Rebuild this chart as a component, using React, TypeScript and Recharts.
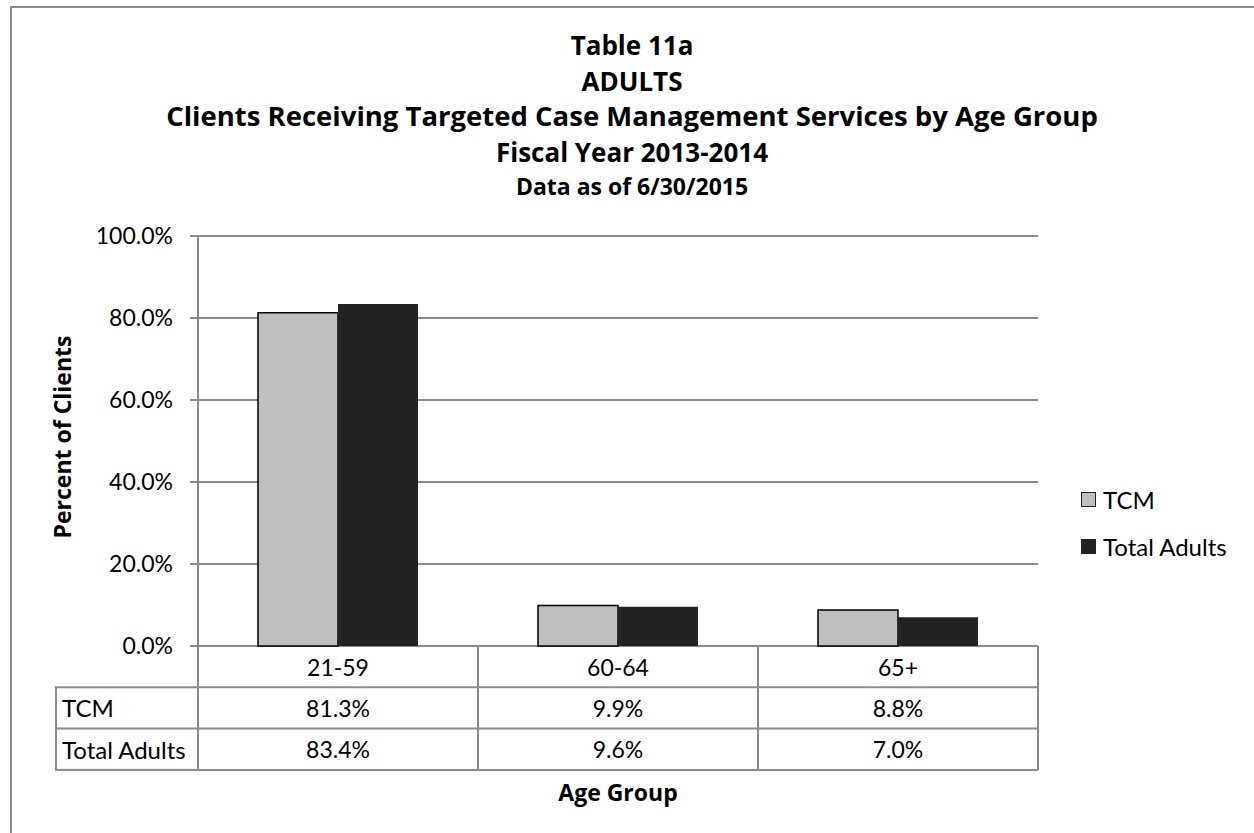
import React from "react";
import { BarChart, Bar, XAxis, YAxis, CartesianGrid } from "recharts";

const categories = ["21-59", "60-64", "65+"];
const tcmValues = [81.3, 9.9, 8.8];
const totalAdultValues = [83.4, 9.6, 7.0];
const seriesNames = ["TCM", "Total Adults"];
const yTicks = [0, 20, 40, 60, 80, 100];
const titleLines = [
  "Table 11a",
  "ADULTS",
  "Clients Receiving Targeted Case Management Services by Age Group",
  "Fiscal Year 2013-2014",
];
const subtitle = "Data as of 6/30/2015";

const W = 1254;
const H = 833;
const PLOT_LEFT = 198;
const PLOT_RIGHT = 1038;
const PLOT_TOP = 236;
const PLOT_BOTTOM = 646;
const Y_AXIS_W = 120;
const ROW_H = 41.3;
const LABEL_COL_LEFT = 56;
const GRID = "#8a8a8a";
const FONT = "Lato, 'DejaVu Sans', sans-serif";
const BOLD_FONT = "'Open Sans', 'DejaVu Sans', sans-serif";
const TCM_FILL = "#bfbfbf";
const TOTAL_FILL = "#222222";
const seriesFills = [TCM_FILL, TOTAL_FILL];

const data = categories.map((age, i) => ({
  age,
  tcm: tcmValues[i],
  total: totalAdultValues[i],
}));

const fmt = (v: number) => `${v.toFixed(1)}%`;

const half = (PLOT_RIGHT - PLOT_LEFT) / categories.length / 2;

// x-axis tick draws its column of the data table
const TableTick = (props: any) => {
  const { x, y, payload, index } = props;
  const top = y;
  const rows = [top + ROW_H, top + ROW_H * 2, top + ROW_H * 3];
  const l = x - half;
  const r = x + half;
  const i = index ?? categories.indexOf(payload.value);
  return (
    <g>
      <line x1={l} x2={l} y1={top} y2={rows[2]} stroke={GRID} strokeWidth={2} />
      <line x1={r} x2={r} y1={top} y2={rows[2]} stroke={GRID} strokeWidth={2} />
      {rows.map((ry) => (
        <line key={ry} x1={l} x2={r} y1={ry} y2={ry} stroke={GRID} strokeWidth={2} />
      ))}
      <text x={x} y={top + ROW_H / 2} textAnchor="middle" dominantBaseline="central" fontSize={23} fill="#000">
        {payload.value}
      </text>
      <text x={x} y={top + ROW_H * 1.5} textAnchor="middle" dominantBaseline="central" fontSize={23} fill="#000">
        {fmt(tcmValues[i])}
      </text>
      <text x={x} y={top + ROW_H * 2.5} textAnchor="middle" dominantBaseline="central" fontSize={23} fill="#000">
        {fmt(totalAdultValues[i])}
      </text>
      {i === 0 && (
        <g>
          <rect
            x={LABEL_COL_LEFT}
            y={rows[0]}
            width={l - LABEL_COL_LEFT}
            height={ROW_H * 2}
            fill="none"
            stroke={GRID}
            strokeWidth={2}
          />
          <line x1={LABEL_COL_LEFT} x2={l} y1={rows[1]} y2={rows[1]} stroke={GRID} strokeWidth={2} />
          {seriesNames.map((name, k) => (
            <text
              key={name}
              x={LABEL_COL_LEFT + 6}
              y={top + ROW_H * (1.5 + k)}
              dominantBaseline="central"
              fontSize={24}
              fill="#000"
            >
              {name}
            </text>
          ))}
        </g>
      )}
    </g>
  );
};

export default function App() {
  return (
    <div style={{ position: "absolute", left: 0, top: 0, width: W, height: H, fontFamily: FONT, background: "#fff" }}>
      <div
        style={{
          position: "absolute",
          left: 10,
          top: 6,
          width: W - 10,
          height: H - 6,
          boxSizing: "border-box",
          borderLeft: `2px solid ${GRID}`,
          borderTop: `2px solid ${GRID}`,
        }}
      />
      <BarChart
        width={W}
        height={H}
        data={data}
        margin={{ top: PLOT_TOP, right: W - PLOT_RIGHT, left: PLOT_LEFT - Y_AXIS_W, bottom: 0 }}
        barGap={0}
        barSize={80}
        style={{ position: "absolute", left: 0, top: 0 }}
      >
        <CartesianGrid vertical={false} stroke={GRID} strokeWidth={2} />
        <XAxis
          dataKey="age"
          height={H - PLOT_BOTTOM}
          axisLine={false}
          tickLine={false}
          tickSize={0}
          tickMargin={0}
          interval={0}
          tick={<TableTick />}
        />
        <YAxis
          width={Y_AXIS_W}
          domain={[0, 100]}
          ticks={yTicks}
          tickFormatter={fmt}
          axisLine={{ stroke: GRID, strokeWidth: 2 }}
          tickLine={{ stroke: GRID, strokeWidth: 2 }}
          tickSize={8}
          tickMargin={17}
          tick={{ fill: "#000", fontSize: 23 }}
        />
        <Bar dataKey="tcm" name={seriesNames[0]} fill={TCM_FILL} stroke="#000" strokeWidth={1.5} isAnimationActive={false} />
        <Bar dataKey="total" name={seriesNames[1]} fill={TOTAL_FILL} isAnimationActive={false} />
      </BarChart>
      <div style={{ position: "absolute", left: 1081, top: 480, fontSize: 24, color: "#000" }}>
        {seriesNames.map((name, k) => (
          <div key={name} style={{ display: "flex", alignItems: "center", height: 38, marginBottom: k === 0 ? 9 : 0 }}>
            <span
              style={{
                display: "inline-block",
                width: 15,
                height: 15,
                boxSizing: "border-box",
                background: seriesFills[k],
                border: k === 0 ? "1.5px solid #222" : "none",
                marginRight: 7,
              }}
            />
            {name}
          </div>
        ))}
      </div>
      <svg width={W} height={H} style={{ position: "absolute", left: 0, top: 0, pointerEvents: "none" }}>
        {titleLines.map((t, i) => (
          <text
            key={t}
            x={632}
            y={55 + i * 35.5}
            textAnchor="middle"
            fontFamily={BOLD_FONT}
            fontWeight="bold"
            fontSize={i === 2 ? 27.5 : 26}
            fill="#000"
          >
            {t}
          </text>
        ))}
        <text x={632} y={195} textAnchor="middle" fontFamily={BOLD_FONT} fontWeight="bold" fontSize={23} fill="#000">
          {subtitle}
        </text>
        <text
          x={62}
          y={437}
          transform="rotate(-90 62 437)"
          textAnchor="middle"
          dominantBaseline="central"
          fontFamily={BOLD_FONT}
          fontWeight="bold"
          fontSize={23}
          fill="#000"
        >
          Percent of Clients
        </text>
        <text
          x={618}
          y={792}
          textAnchor="middle"
          dominantBaseline="central"
          fontFamily={BOLD_FONT}
          fontWeight="bold"
          fontSize={23}
          fill="#000"
        >
          Age Group
        </text>
      </svg>
    </div>
  );
}
